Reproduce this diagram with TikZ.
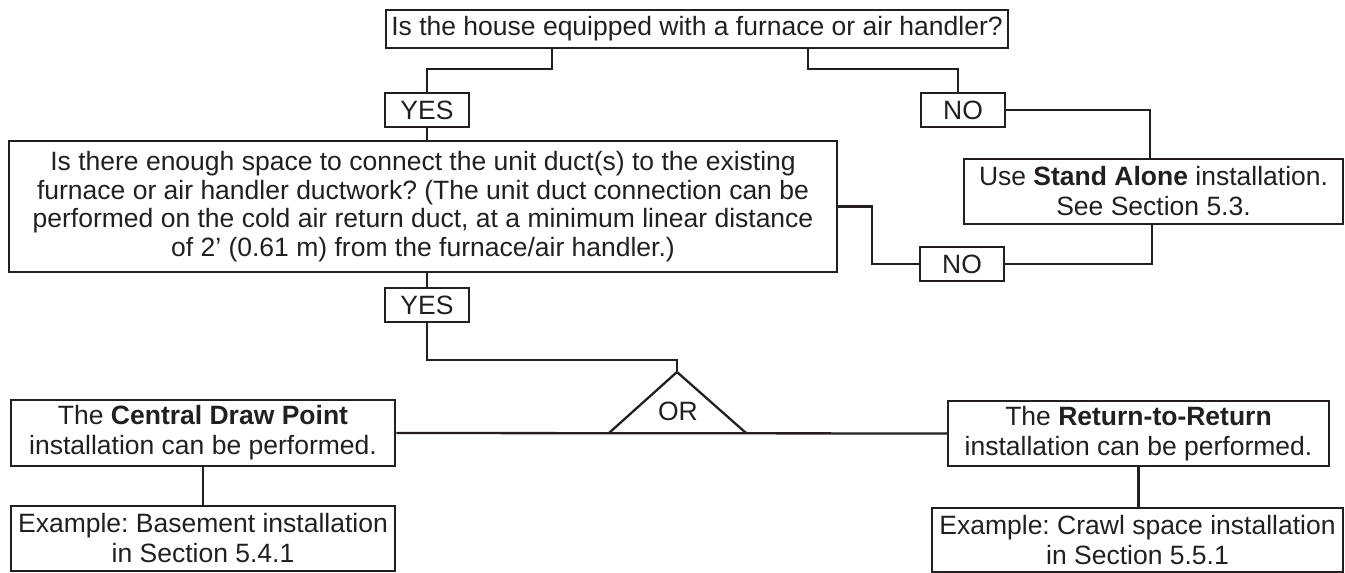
\documentclass[tikz,border=0pt]{standalone}
\usepackage{fontspec}
\setmainfont{Liberation Sans}
\definecolor{ink}{HTML}{231F20}
\frenchspacing
\begin{document}
\begin{tikzpicture}[x=1pt,y=-1pt,
  box/.style={draw=ink, line width=2.5pt, inner sep=0pt, align=center, text=ink,
    font=\fontsize{26.5}{30}\selectfont},
  link/.style={draw=ink, line width=2.3pt}]
\useasboundingbox (0,0) rectangle (1345,573);

\node[box, minimum width=622pt, minimum height=38pt] (top) at (697,29)
  {Is the house equipped with a furnace or air handler?};
\node[box, minimum width=84pt, minimum height=34pt] (yes1) at (427,110) {YES};
\node[box, minimum width=84pt, minimum height=34pt] (no1) at (963,110) {NO};
\node[box, minimum width=828pt, minimum height=131pt,
  font=\fontsize{26.5}{28.7}\selectfont] (big) at (423,206.5)
  {Is there enough space to connect the unit duct(s) to the existing\\
   furnace or air handler ductwork? (The unit duct connection can be\\
   performed on the cold air return duct, at a minimum linear distance\\
   of 2’ (0.61 m) from the furnace/air handler.)};
\node[box, minimum width=379pt, minimum height=65pt] (standalone) at (1153.5,191.5)
  {Use \textbf{Stand Alone} installation.\\See Section 5.3.};
\node[box, minimum width=84pt, minimum height=34pt] (no2) at (962,264) {NO};
\node[box, minimum width=84pt, minimum height=34pt] (yes2) at (427,305) {YES};

\coordinate (apex) at (677,372);
\coordinate (tl) at (609,433);
\coordinate (tr) at (746,433);
\node[text=ink, inner sep=0pt, font=\fontsize{26.5}{30}\selectfont] (or) at (678,411) {OR};

\node[box, minimum width=384pt, minimum height=66pt] (central) at (203,433)
  {The \textbf{Central Draw Point}\\installation can be performed.};
\node[box, minimum width=381pt, minimum height=65pt] (return) at (1138.5,433.5)
  {The \textbf{Return-to-Return}\\installation can be performed.};
\node[box, minimum width=384pt, minimum height=65pt] (ex1) at (203,538.5)
  {Example: Basement installation\\in Section 5.4.1};
\node[box, minimum width=411pt, minimum height=64pt] (ex2) at (1137.5,540)
  {Example: Crawl space installation\\in Section 5.5.1};

\draw[link] ([xshift=-145pt]top.south) -- ++(0,20) -| (yes1.north);
\draw[link] ([xshift=111pt]top.south) -- ++(0,20) -| ([xshift=-5pt]no1.north);
\draw[link] (no1.east) -| ([xshift=-3.5pt]standalone.north);
\draw[link] ([xshift=-1.5pt]standalone.south) |- (no2.east);
\draw[link] (big.east) -- ++(34,0) |- (no2.west);
\draw[link] (yes1.south) -- (yes1.south |- big.north);
\draw[link] (yes2.north |- big.south) -- (yes2.north);
\draw[link] (yes2.south) -- ++(0,37) -| (apex);
\draw[link, line join=miter] (tl) -- (apex) -- (tr);
\draw[link] (central.east) -- (return.west);
\draw[link] (central.south) -- (ex1.north);
\draw[link] (return.south) -- (return.south |- ex2.north);
\end{tikzpicture}
\end{document}
